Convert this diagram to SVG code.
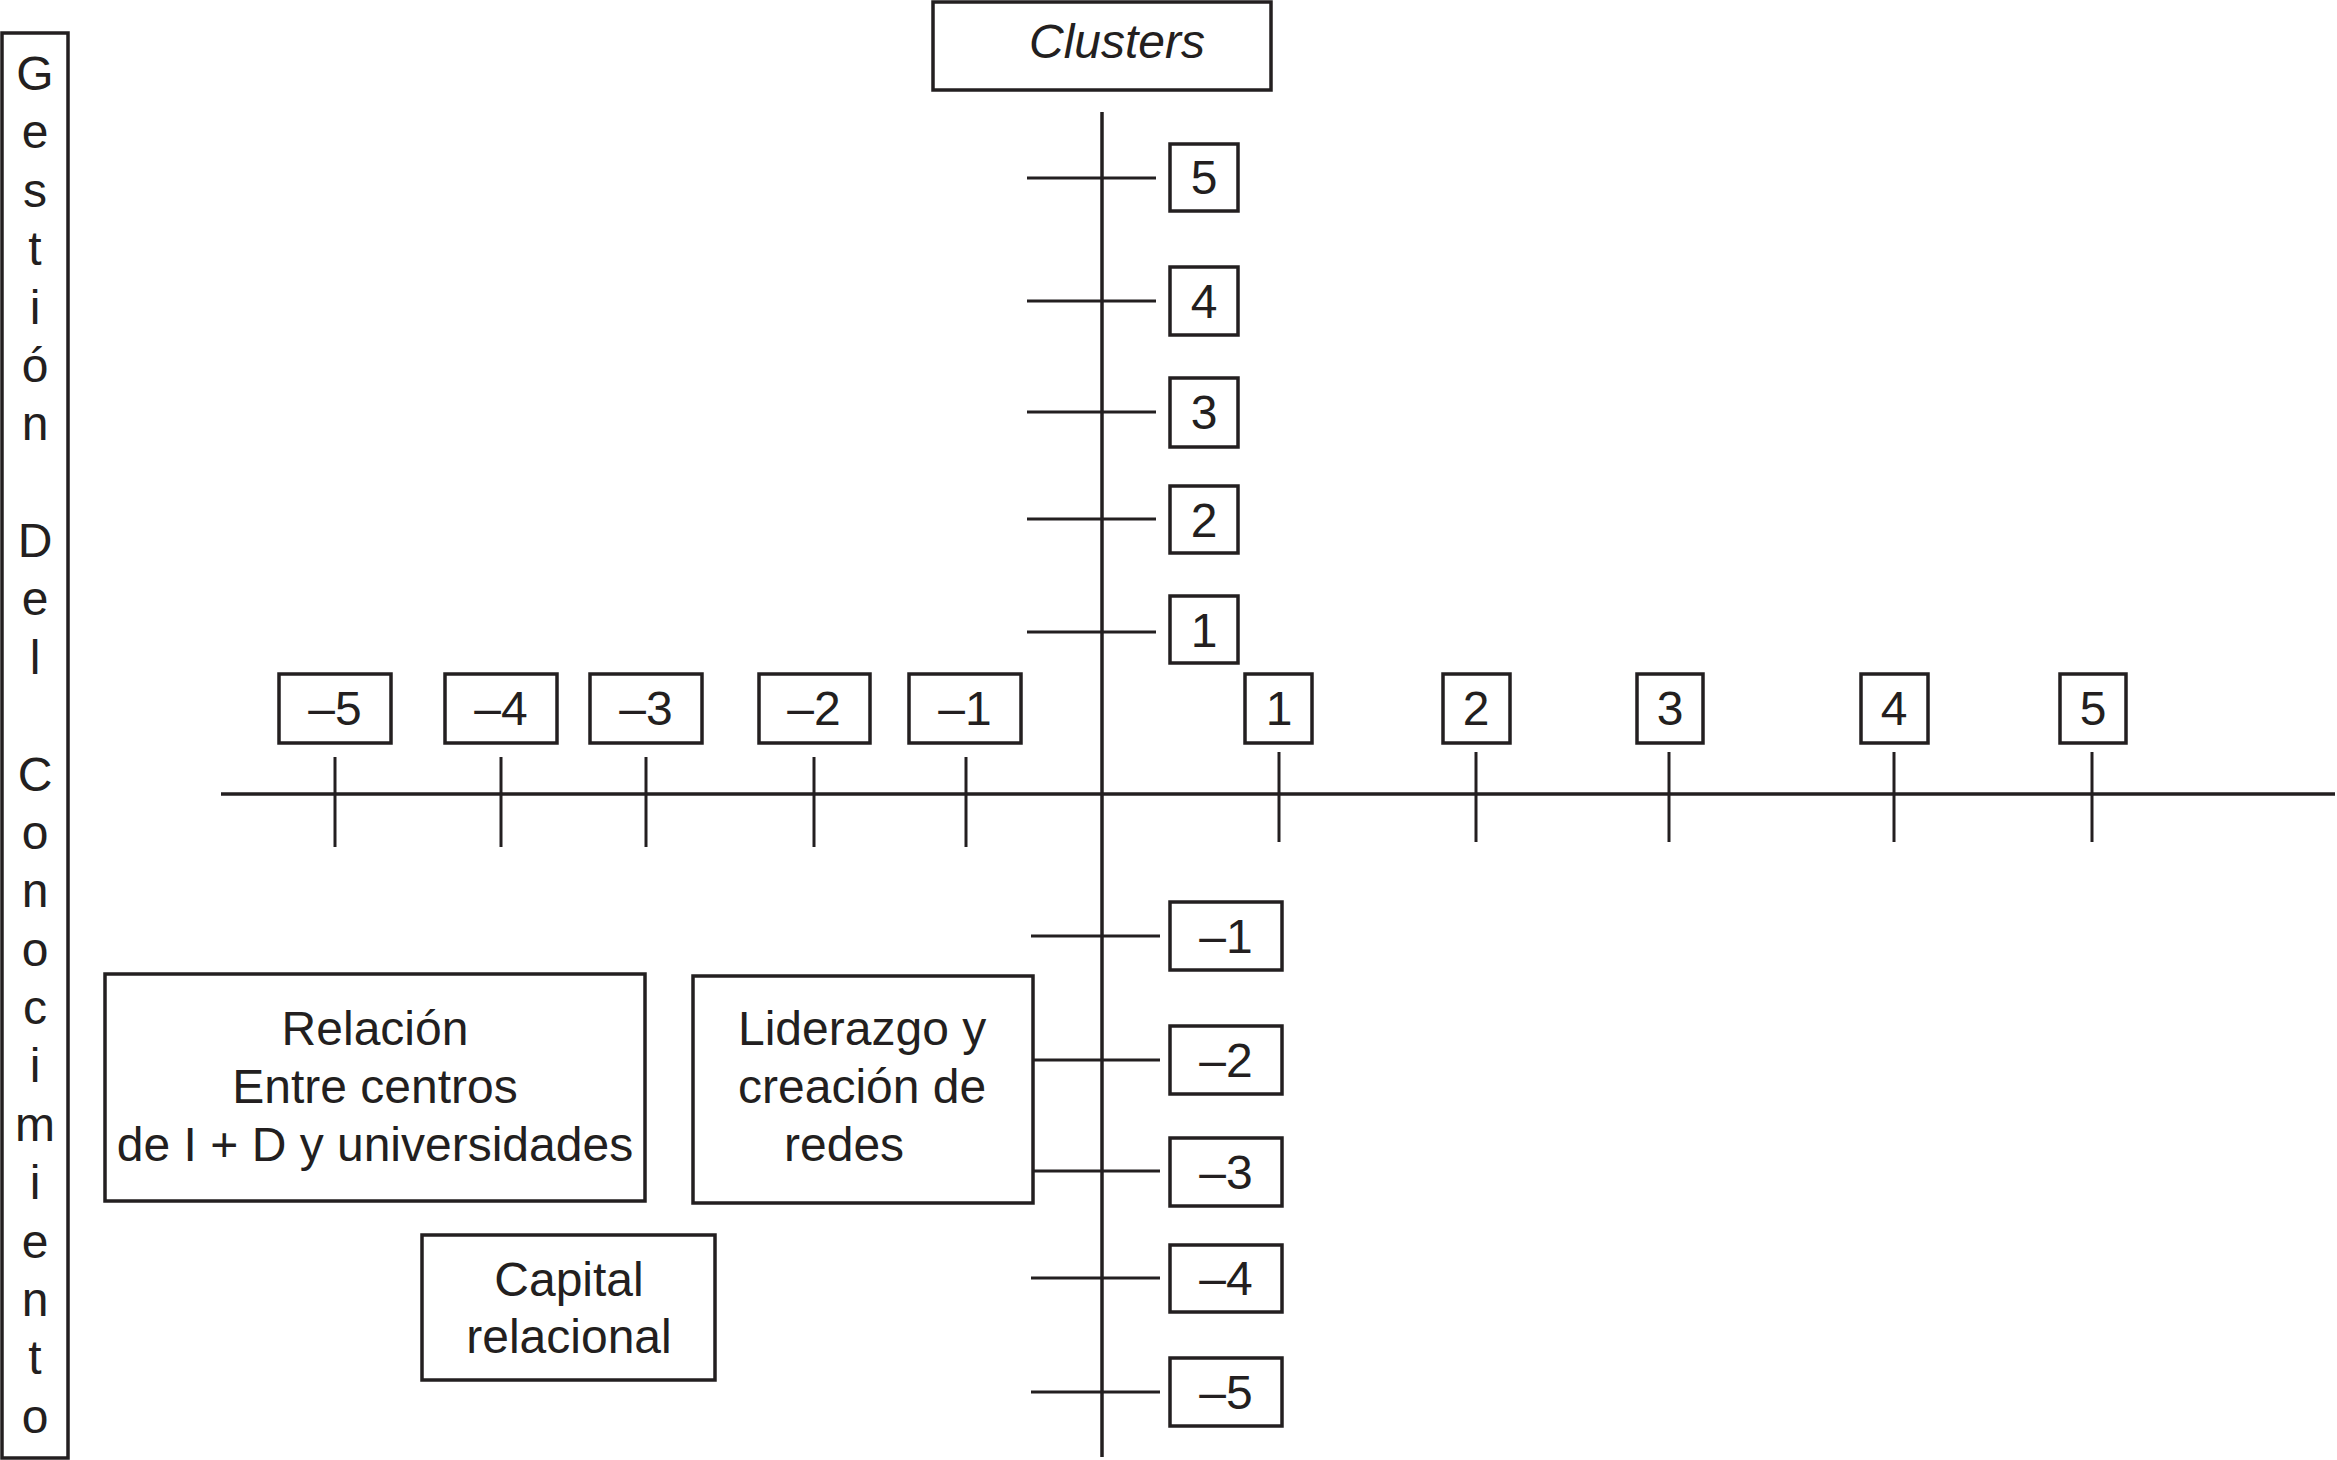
<svg xmlns="http://www.w3.org/2000/svg" width="2337" height="1460" viewBox="0 0 2337 1460">
<style>
.bx{fill:#fff;stroke:#231f20;stroke-width:3.5}
.ln{stroke:#231f20;stroke-width:3.5;fill:none}
.tk{stroke:#231f20;stroke-width:3;fill:none}
text{font-family:"Liberation Sans",Arial,Helvetica,sans-serif;font-size:48px;fill:#231f20}
.c{text-anchor:middle}
</style>
<rect width="2337" height="1460" fill="#fff"/>
<g id="connectors">
<line class="ln" x1="1102" y1="112" x2="1102" y2="1457"/>
<line class="ln" x1="221" y1="794" x2="2335" y2="794"/>
<line class="tk" x1="1027" y1="178" x2="1156" y2="178"/>
<line class="tk" x1="1027" y1="301" x2="1156" y2="301"/>
<line class="tk" x1="1027" y1="412" x2="1156" y2="412"/>
<line class="tk" x1="1027" y1="519" x2="1156" y2="519"/>
<line class="tk" x1="1027" y1="632" x2="1156" y2="632"/>
<line class="tk" x1="1031" y1="936" x2="1160" y2="936"/>
<line class="tk" x1="1033" y1="1060" x2="1160" y2="1060"/>
<line class="tk" x1="1033" y1="1171" x2="1160" y2="1171"/>
<line class="tk" x1="1031" y1="1278" x2="1160" y2="1278"/>
<line class="tk" x1="1031" y1="1392" x2="1160" y2="1392"/>
<line class="tk" x1="335" y1="757" x2="335" y2="847"/>
<line class="tk" x1="501" y1="757" x2="501" y2="847"/>
<line class="tk" x1="646" y1="757" x2="646" y2="847"/>
<line class="tk" x1="814" y1="757" x2="814" y2="847"/>
<line class="tk" x1="966" y1="757" x2="966" y2="847"/>
<line class="tk" x1="1279" y1="752" x2="1279" y2="842"/>
<line class="tk" x1="1476" y1="752" x2="1476" y2="842"/>
<line class="tk" x1="1669" y1="752" x2="1669" y2="842"/>
<line class="tk" x1="1894" y1="752" x2="1894" y2="842"/>
<line class="tk" x1="2092" y1="752" x2="2092" y2="842"/>
</g>
<g id="gestion">
<rect class="bx" x="2" y="33" width="66" height="1425"/>
<text class="c" x="35" y="90">G</text>
<text class="c" x="35" y="148">e</text>
<text class="c" x="35" y="207">s</text>
<text class="c" x="35" y="265">t</text>
<text class="c" x="35" y="324">i</text>
<text class="c" x="35" y="382">ó</text>
<text class="c" x="35" y="440">n</text>
<text class="c" x="35" y="557">D</text>
<text class="c" x="35" y="615">e</text>
<text class="c" x="35" y="674">l</text>
<text class="c" x="35" y="791">C</text>
<text class="c" x="35" y="849">o</text>
<text class="c" x="35" y="907">n</text>
<text class="c" x="35" y="966">o</text>
<text class="c" x="35" y="1024">c</text>
<text class="c" x="35" y="1082">i</text>
<text class="c" x="35" y="1141">m</text>
<text class="c" x="35" y="1199">i</text>
<text class="c" x="35" y="1258">e</text>
<text class="c" x="35" y="1316">n</text>
<text class="c" x="35" y="1374">t</text>
<text class="c" x="35" y="1433">o</text>
</g>
<g id="clusters">
<rect class="bx" x="933" y="2" width="338" height="88"/>
<text class="c" x="1117" y="58" font-style="italic">Clusters</text>
</g>
<g id="y-pos">
<rect class="bx" x="1170" y="144" width="68" height="67"/><text class="c" x="1204" y="194">5</text>
<rect class="bx" x="1170" y="267" width="68" height="68"/><text class="c" x="1204" y="318">4</text>
<rect class="bx" x="1170" y="378" width="68" height="69"/><text class="c" x="1204" y="429">3</text>
<rect class="bx" x="1170" y="486" width="68" height="67"/><text class="c" x="1204" y="537">2</text>
<rect class="bx" x="1170" y="596" width="68" height="67"/><text class="c" x="1204" y="647">1</text>
</g>
<g id="y-neg">
<rect class="bx" x="1170" y="902" width="112" height="68"/><text class="c" x="1226" y="953">–1</text>
<rect class="bx" x="1170" y="1026" width="112" height="68"/><text class="c" x="1226" y="1077">–2</text>
<rect class="bx" x="1170" y="1138" width="112" height="68"/><text class="c" x="1226" y="1189">–3</text>
<rect class="bx" x="1170" y="1245" width="112" height="67"/><text class="c" x="1226" y="1295">–4</text>
<rect class="bx" x="1170" y="1358" width="112" height="68"/><text class="c" x="1226" y="1409">–5</text>
</g>
<g id="x-neg">
<rect class="bx" x="279" y="674" width="112" height="69"/><text class="c" x="335" y="725">–5</text>
<rect class="bx" x="445" y="674" width="112" height="69"/><text class="c" x="501" y="725">–4</text>
<rect class="bx" x="590" y="674" width="112" height="69"/><text class="c" x="646" y="725">–3</text>
<rect class="bx" x="759" y="674" width="111" height="69"/><text class="c" x="814" y="725">–2</text>
<rect class="bx" x="909" y="674" width="112" height="69"/><text class="c" x="965" y="725">–1</text>
</g>
<g id="x-pos">
<rect class="bx" x="1245" y="674" width="67" height="69"/><text class="c" x="1279" y="725">1</text>
<rect class="bx" x="1443" y="674" width="67" height="69"/><text class="c" x="1476" y="725">2</text>
<rect class="bx" x="1637" y="674" width="66" height="69"/><text class="c" x="1670" y="725">3</text>
<rect class="bx" x="1861" y="674" width="67" height="69"/><text class="c" x="1894" y="725">4</text>
<rect class="bx" x="2060" y="674" width="66" height="69"/><text class="c" x="2093" y="725">5</text>
</g>
<g id="relacion">
<rect class="bx" x="105" y="974" width="540" height="227"/>
<text class="c" x="375" y="1045">Relación</text>
<text class="c" x="375" y="1103">Entre centros</text>
<text class="c" x="375" y="1161">de I + D y universidades</text>
</g>
<g id="liderazgo">
<rect class="bx" x="693" y="976" width="340" height="227"/>
<text x="738" y="1045">Liderazgo y</text>
<text x="738" y="1103">creación de</text>
<text x="784" y="1161">redes</text>
</g>
<g id="capital">
<rect class="bx" x="422" y="1235" width="293" height="145"/>
<text class="c" x="569" y="1296">Capital</text>
<text class="c" x="569" y="1353">relacional</text>
</g>
</svg>
